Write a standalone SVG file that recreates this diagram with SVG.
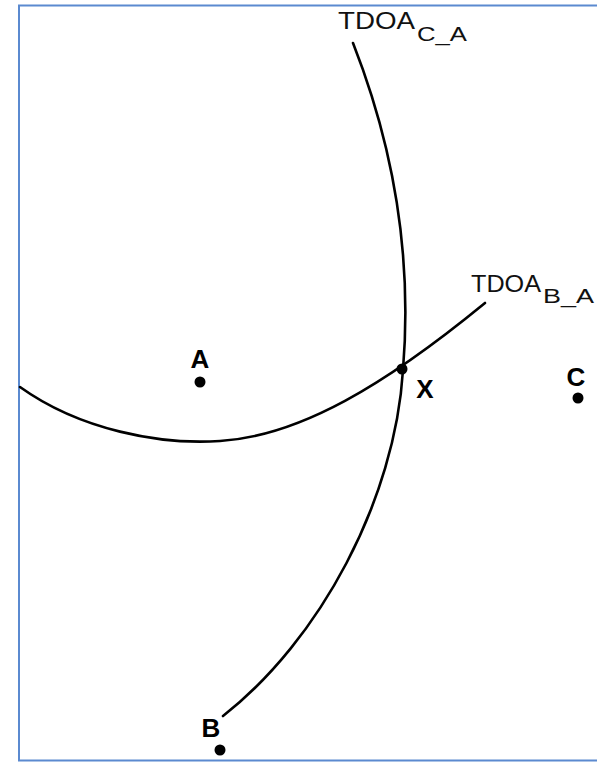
<svg xmlns="http://www.w3.org/2000/svg" width="597" height="762" viewBox="0 0 597 762">
<style>
.curve{fill:none;stroke:#000;stroke-width:2.6;stroke-linecap:round}
.lbl{font-family:"Liberation Sans",Arial,sans-serif;fill:#111}
.pt{font-family:"Liberation Sans",Arial,sans-serif;font-weight:bold;font-size:26px;fill:#000;text-anchor:middle}
.dot{fill:#000}
</style>
<rect width="597" height="762" fill="#fff"/>
<path d="M597,5.5 H19 V760.5 H597" fill="none" stroke="#5b8ad0" stroke-width="2"/>
<g id="connectors">
<path id="tdoa_c_a" class="curve" d="M353,43 C395,150 412,260 403,370 C395,500 320,640 223,716"/>
<path id="tdoa_b_a" class="curve" d="M20,387 C80,430 160,445 220,441 C300,436 385,385 485,303"/>
</g>
<g id="label_c_a">
<text class="lbl" x="338" y="29" font-size="24" textLength="77" lengthAdjust="spacingAndGlyphs">TDOA</text>
<text class="lbl" x="417" y="41" font-size="20" textLength="50" lengthAdjust="spacingAndGlyphs">C_A</text>
</g>
<g id="label_b_a">
<text class="lbl" x="471" y="292" font-size="24" textLength="70" lengthAdjust="spacingAndGlyphs">TDOA</text>
<text class="lbl" x="543" y="303" font-size="20" textLength="51" lengthAdjust="spacingAndGlyphs">B_A</text>
</g>
<g id="node_A">
<text class="pt" x="200" y="368">A</text>
<circle class="dot" cx="200" cy="382" r="5.5"/>
</g>
<g id="node_X">
<circle class="dot" cx="402" cy="369" r="5.5"/>
<text class="pt" x="425" y="398">X</text>
</g>
<g id="node_C">
<text class="pt" x="576" y="386">C</text>
<circle class="dot" cx="578" cy="398" r="5.5"/>
</g>
<g id="node_B">
<text class="pt" x="211" y="737">B</text>
<circle class="dot" cx="220" cy="750" r="5.5"/>
</g>
</svg>
